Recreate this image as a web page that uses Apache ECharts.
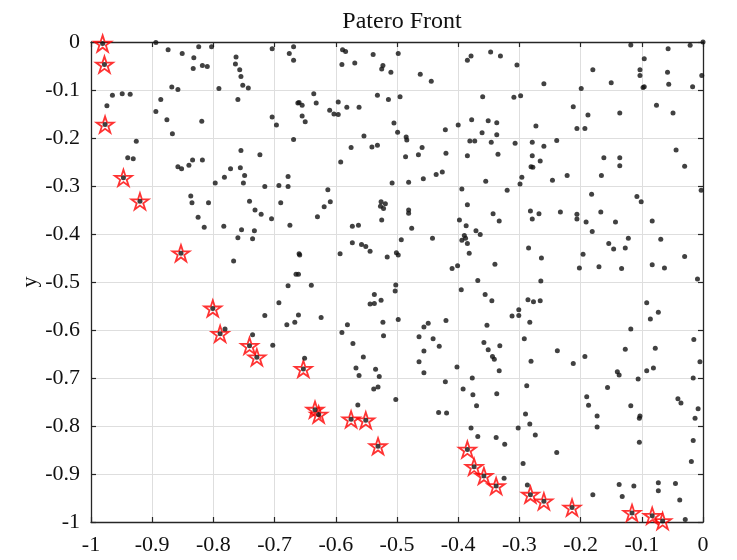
<!DOCTYPE html>
<html>
<head>
<meta charset="utf-8">
<script src="https://cdn.jsdelivr.net/npm/echarts@6/dist/echarts.min.js"></script>
<style>
html,body{margin:0;padding:0;background:#fff;}
#chart{width:737px;height:560px;}
</style>
</head>
<body>
<div id="chart"></div>
<script>
// Population (black dots)
var popX = [
-0.894,-0.874,-0.851,-0.832,-0.824,-0.803,-0.833,-0.818,-0.810,-0.763,-0.764,-0.757,-0.755,-0.752,-0.743,-0.704,-0.676,-0.669,-0.669,-0.868,
-0.858,-0.791,-0.760,-0.965,-0.949,-0.936,-0.974,-0.886,-0.894,-0.876,-0.867,-0.819,-0.704,-0.697,-0.662,-0.669,-0.926,-0.940,-0.931,-0.755,
-0.724,-0.858,-0.852,-0.840,-0.834,-0.818,-0.772,-0.782,-0.756,-0.749,-0.751,-0.797,-0.716,-0.693,-0.678,-0.678,-0.837,
-0.835,-0.808,-0.825,-0.815,-0.783,-0.754,-0.760,-0.736,-0.733,-0.741,-0.732,-0.722,-0.705,-0.690,-0.675,-0.767,-0.661,-0.678,-0.693,-0.716,
-0.680,-0.667,-0.661,-0.781,-0.736,-0.703,
-0.589,-0.584,-0.590,-0.569,-0.539,-0.498,-0.525,-0.523,-0.510,-0.462,-0.444,-0.385,-0.379,-0.347,-0.331,-0.636,-0.660,-0.655,-0.632,-0.655,
-0.650,-0.596,-0.610,-0.603,-0.596,-0.582,-0.562,-0.532,-0.514,-0.495,-0.505,-0.499,-0.554,-0.575,-0.541,-0.532,-0.592,-0.485,-0.484,-0.486,
-0.465,-0.459,-0.421,-0.400,-0.420,-0.378,-0.351,-0.337,-0.360,-0.361,-0.381,-0.373,-0.346,-0.337,-0.335,-0.385,-0.613,-0.508,-0.481,-0.457,
-0.436,-0.426,-0.394,-0.355,
-0.609,-0.619,-0.630,-0.526,-0.519,-0.527,-0.522,-0.525,-0.481,-0.481,-0.476,-0.573,-0.563,-0.573,-0.558,-0.551,-0.544,-0.593,-0.516,-0.501,
-0.498,-0.493,-0.442,-0.660,-0.659,-0.665,-0.640,-0.502,-0.503,-0.537,-0.526,-0.544,-0.537,-0.624,-0.581,-0.590,-0.572,-0.555,-0.523,-0.522,
-0.498,-0.464,-0.456,-0.449,-0.441,-0.431,-0.456,-0.464,-0.420,-0.398,-0.385,-0.387,-0.371,-0.364,-0.390,-0.388,-0.394,-0.385,-0.382,-0.410,
-0.401,-0.343,-0.333,-0.340,-0.368,-0.395,-0.356,-0.345,-0.353,-0.358,-0.351,-0.332,-0.344,-0.341,-0.651,
-0.567,-0.562,-0.535,-0.529,-0.538,-0.531,-0.564,-0.502,-0.456,-0.421,-0.402,-0.432,-0.419,-0.392,-0.377,-0.376,-0.370,-0.379,-0.368,-0.338,
-0.324,-0.337,-0.333,-0.325,
-0.304,-0.260,-0.309,-0.298,-0.273,-0.212,-0.188,-0.206,-0.193,-0.199,-0.180,-0.150,-0.118,-0.103,-0.103,-0.096,-0.098,-0.096,-0.057,-0.058,
-0.056,-0.021,-0.017,-0.002,0.000,-0.076,-0.049,-0.136,-0.307,-0.279,-0.260,-0.239,-0.279,-0.266,-0.281,-0.278,-0.296,-0.299,-0.320,-0.246,
-0.222,-0.166,-0.162,-0.136,-0.136,-0.044,-0.030,-0.182,-0.108,-0.101,-0.003,
-0.282,-0.279,-0.268,-0.233,-0.206,-0.206,-0.191,-0.167,-0.143,-0.181,-0.083,-0.285,-0.264,-0.196,-0.202,-0.170,-0.154,-0.146,-0.127,-0.122,
-0.133,-0.083,-0.063,-0.069,-0.030,-0.009,-0.265,-0.286,-0.277,-0.266,-0.301,-0.301,-0.312,-0.283,-0.092,-0.073,-0.086,-0.118,-0.292,-0.238,
-0.193,-0.127,-0.078,-0.015,-0.281,-0.212,-0.005,
-0.288,-0.140,-0.137,-0.092,-0.081,-0.106,-0.016,-0.156,-0.190,-0.187,-0.173,-0.173,-0.290,-0.283,-0.274,-0.302,-0.118,-0.103,-0.104,-0.104,
-0.041,-0.036,-0.008,-0.013,-0.016,-0.019,-0.294,-0.239,-0.287,-0.180,-0.137,-0.132,-0.113,-0.073,-0.073,-0.045,-0.038,-0.029
];
var popY = [
-0.001,-0.016,-0.024,-0.033,-0.010,-0.010,-0.055,-0.049,-0.051,-0.031,-0.046,-0.058,-0.072,-0.090,-0.096,-0.014,-0.024,-0.010,-0.038,-0.094,
-0.099,-0.097,-0.120,-0.111,-0.108,-0.109,-0.133,-0.120,-0.145,-0.162,-0.191,-0.165,-0.156,-0.173,-0.127,-0.203,-0.207,-0.241,-0.243,-0.226,
-0.235,-0.260,-0.264,-0.257,-0.246,-0.246,-0.264,-0.282,-0.262,-0.278,-0.294,-0.294,-0.301,-0.299,-0.301,-0.280,-0.321,
-0.335,-0.335,-0.365,-0.386,-0.384,-0.391,-0.408,-0.410,-0.393,-0.332,-0.350,-0.359,-0.368,-0.335,-0.382,-0.456,-0.484,-0.508,-0.543,-0.570,
-0.589,-0.584,-0.569,-0.598,-0.610,-0.632,
-0.016,-0.020,-0.047,-0.044,-0.026,-0.024,-0.056,-0.049,-0.063,-0.067,-0.082,-0.038,-0.029,-0.021,-0.029,-0.108,-0.126,-0.132,-0.127,-0.154,
-0.166,-0.125,-0.142,-0.150,-0.151,-0.136,-0.136,-0.111,-0.120,-0.114,-0.169,-0.188,-0.196,-0.220,-0.219,-0.215,-0.250,-0.198,-0.204,-0.239,
-0.235,-0.220,-0.183,-0.173,-0.232,-0.162,-0.164,-0.168,-0.114,-0.189,-0.206,-0.206,-0.209,-0.193,-0.234,-0.237,-0.308,-0.294,-0.292,-0.285,
-0.276,-0.271,-0.306,-0.290,
-0.333,-0.343,-0.364,-0.333,-0.337,-0.342,-0.347,-0.371,-0.350,-0.357,-0.388,-0.384,-0.382,-0.418,-0.422,-0.426,-0.436,-0.441,-0.448,-0.439,
-0.444,-0.412,-0.409,-0.441,-0.444,-0.484,-0.507,-0.506,-0.519,-0.526,-0.538,-0.546,-0.545,-0.574,-0.589,-0.605,-0.628,-0.656,-0.584,-0.612,
-0.578,-0.614,-0.594,-0.586,-0.618,-0.634,-0.644,-0.666,-0.580,-0.371,-0.339,-0.383,-0.393,-0.401,-0.403,-0.409,-0.413,-0.420,-0.440,-0.472,
-0.466,-0.358,-0.373,-0.463,-0.497,-0.516,-0.526,-0.539,-0.590,-0.626,-0.641,-0.633,-0.655,-0.661,-0.659,
-0.679,-0.695,-0.682,-0.697,-0.723,-0.719,-0.756,-0.745,-0.689,-0.708,-0.677,-0.772,-0.773,-0.723,-0.700,-0.735,-0.758,-0.804,-0.822,-0.824,
-0.838,-0.733,-0.685,-0.909,
-0.048,-0.087,-0.115,-0.112,-0.175,-0.135,-0.152,-0.180,-0.180,-0.097,-0.058,-0.085,-0.006,-0.058,-0.070,-0.035,-0.095,-0.093,-0.014,-0.063,
-0.088,-0.007,-0.093,-0.070,0.000,-0.132,-0.148,-0.148,-0.211,-0.209,-0.217,-0.205,-0.237,-0.248,-0.260,-0.261,-0.282,-0.296,-0.309,-0.288,
-0.278,-0.278,-0.241,-0.241,-0.258,-0.225,-0.259,-0.317,-0.322,-0.333,-0.309,
-0.352,-0.369,-0.358,-0.354,-0.359,-0.369,-0.375,-0.354,-0.375,-0.395,-0.373,-0.429,-0.450,-0.442,-0.471,-0.468,-0.420,-0.431,-0.429,-0.409,
-0.472,-0.464,-0.471,-0.411,-0.447,-0.494,-0.498,-0.537,-0.541,-0.539,-0.558,-0.570,-0.571,-0.584,-0.543,-0.563,-0.577,-0.598,-0.618,-0.643,
-0.655,-0.640,-0.638,-0.620,-0.665,-0.670,-0.666,
-0.716,-0.687,-0.694,-0.685,-0.679,-0.702,-0.700,-0.720,-0.739,-0.757,-0.779,-0.802,-0.775,-0.796,-0.819,-0.804,-0.758,-0.779,-0.784,-0.834,
-0.743,-0.752,-0.764,-0.784,-0.830,-0.874,-0.878,-0.855,-0.923,-0.943,-0.922,-0.947,-0.925,-0.918,-0.935,-0.920,-0.954,-0.995
];
// Pareto front (red stars)
var frontX = [-0.981,-0.978,-0.977,-0.947,-0.920,-0.853,-0.801,-0.789,-0.741,-0.729,-0.653,-0.634,-0.628,-0.575,-0.551,-0.531,-0.385,-0.374,-0.358,-0.338,-0.282,-0.260,-0.214,-0.116,-0.083,-0.066];
var frontY = [-0.003,-0.047,-0.172,-0.283,-0.332,-0.440,-0.555,-0.608,-0.633,-0.657,-0.681,-0.766,-0.776,-0.786,-0.788,-0.842,-0.849,-0.885,-0.904,-0.925,-0.943,-0.957,-0.970,-0.981,-0.987,-0.998];

var titleText = 'Patero Front';
var yName = 'y';

function zip(a, b) { var r = []; for (var i = 0; i < a.length; i++) r.push([a[i], b[i]]); return r; }
var popData = zip(popX, popY).concat(zip(frontX, frontY));
var frontData = zip(frontX, frontY);

var STAR = 'path://M50 0 L61.23 34.55 L97.55 34.55 L68.17 55.9 L79.39 90.45 L50 69.1 L20.61 90.45 L31.83 55.9 L2.45 34.55 L38.77 34.55 Z';
var FONT = 'Liberation Serif';
var AX = '#262626';

var chart = echarts.init(document.getElementById('chart'), null, {renderer: 'canvas'});
var baseAxis = {
  min: -1, max: 0, interval: 0.1,
  axisLine: {show: true, onZero: false, lineStyle: {color: AX, width: 1.3}},
  axisTick: {show: true, inside: true, length: 5, lineStyle: {color: AX, width: 1.2}},
  splitLine: {show: false},
  axisLabel: {show: false}
};
function ax(extra) { return Object.assign({}, JSON.parse(JSON.stringify(baseAxis)), extra); }

chart.setOption({
  animation: false,
  backgroundColor: '#fff',
  title: {
    text: titleText, left: 397, top: 5, textAlign: 'center',
    textStyle: {fontFamily: FONT, fontSize: 24, fontWeight: 'normal', color: '#111'}
  },
  grid: {left: 91, right: 34, top: 42, bottom: 38, containLabel: false},
  xAxis: [
    ax({type: 'value', position: 'bottom',
      splitLine: {show: true, lineStyle: {color: '#dedede', width: 1}},
      axisLabel: {show: true, margin: 12, fontFamily: FONT, fontSize: 22, color: '#111'}}),
    ax({type: 'value', position: 'top'})
  ],
  yAxis: [
    ax({type: 'value', position: 'left',
      splitLine: {show: true, lineStyle: {color: '#dedede', width: 1}},
      axisLabel: {show: true, margin: 11, fontFamily: FONT, fontSize: 22, color: '#111'},
      name: yName, nameLocation: 'middle', nameGap: 50, nameRotate: 90, nameMoveOverlap: false,
      nameTextStyle: {fontFamily: FONT, fontSize: 22, color: '#111'}}),
    ax({type: 'value', position: 'right'})
  ],
  series: [
    {
      type: 'scatter', xAxisIndex: 0, yAxisIndex: 0, clip: false,
      data: frontData, symbol: STAR, symbolSize: 17, symbolKeepAspect: true,
      itemStyle: {color: 'rgba(255,255,255,0)', borderColor: '#ff0000', borderWidth: 1.8},
      z: 3
    },
    {
      type: 'scatter', xAxisIndex: 0, yAxisIndex: 0, clip: false,
      data: popData, symbol: 'circle', symbolSize: 5,
      itemStyle: {color: '#111'},
      z: 4
    }
  ]
});
</script>
</body>
</html>
